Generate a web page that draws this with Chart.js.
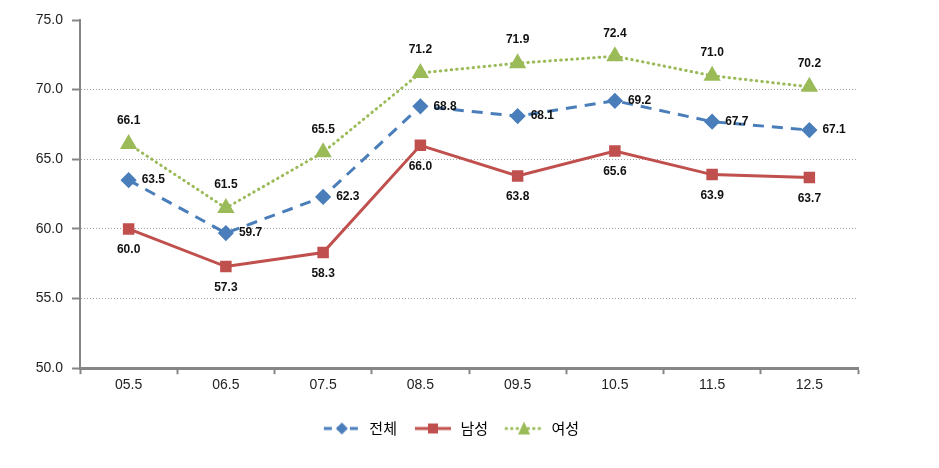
<!DOCTYPE html>
<html>
<head>
<meta charset="utf-8">
<script src="https://cdn.jsdelivr.net/npm/chart.js@4.4.1/dist/chart.umd.min.js"></script>
<style>
  html, body { margin: 0; padding: 0; background: #fff; }
  #wrap { width: 939px; height: 468px; }
</style>
</head>
<body>
<div id="wrap"><canvas id="chart" width="939" height="468"></canvas></div>
<script>
// categories (year.month) and series values
var months = ["05.5", "06.5", "07.5", "08.5", "09.5", "10.5", "11.5", "12.5"];
var total  = [63.5, 59.7, 62.3, 68.8, 68.1, 69.2, 67.7, 67.1];
var male   = [60.0, 57.3, 58.3, 66.0, 63.8, 65.6, 63.9, 63.7];
var female = [66.1, 61.5, 65.5, 71.2, 71.9, 72.4, 71.0, 70.2];
var yTicks = [50, 55, 60, 65, 70, 75];

var BLUE = "#4A7EBB", RED = "#C0504D", GREEN = "#9BBB59";

// small legend swatches: line + marker, like the office chart legend
function swatch(color, dash, cap, shape) {
    var c = document.createElement("canvas");
    c.width = 40; c.height = 16;
    var g = c.getContext("2d");
    g.strokeStyle = color;
    g.lineWidth = 3;
    g.lineCap = cap;
    g.setLineDash(dash);
    g.beginPath(); g.moveTo(2, 8); g.lineTo(38, 8); g.stroke();
    g.setLineDash([]);
    g.fillStyle = color;
    g.beginPath();
    if (shape === "diamond") {
        g.moveTo(20, 2); g.lineTo(26, 8); g.lineTo(20, 14); g.lineTo(14, 8);
    } else if (shape === "square") {
        g.rect(15, 3, 10, 10);
    } else {
        g.moveTo(20, 1); g.lineTo(26, 14); g.lineTo(14, 14);
    }
    g.closePath(); g.fill();
    return c;
}

var swatches = [
    swatch(BLUE, [8, 5], "butt", "diamond"),
    swatch(RED, [], "butt", "square"),
    swatch(GREEN, [0.5, 5], "round", "triangle")
];

// draws the value labels next to each point
var valueLabels = {
    id: "valueLabels",
    afterDatasetsDraw: function (chart) {
        var ctx = chart.ctx;
        ctx.save();
        ctx.font = "bold 12px 'Liberation Sans', Arial, sans-serif";
        ctx.fillStyle = "#111";
        chart.data.datasets.forEach(function (ds, i) {
            var meta = chart.getDatasetMeta(i);
            meta.data.forEach(function (pt, j) {
                var txt = ds.data[j].toFixed(1);
                if (ds.labelPos === "right") {
                    ctx.textAlign = "left"; ctx.textBaseline = "middle";
                    ctx.fillText(txt, pt.x + 13, pt.y);
                } else if (ds.labelPos === "below") {
                    ctx.textAlign = "center"; ctx.textBaseline = "middle";
                    ctx.fillText(txt, pt.x, pt.y + 21);
                } else {
                    ctx.textAlign = "center"; ctx.textBaseline = "middle";
                    ctx.fillText(txt, pt.x, pt.y - 23);
                }
            });
        });
        ctx.restore();
    }
};

new Chart(document.getElementById("chart"), {
    type: "line",
    data: {
        labels: months,
        datasets: [
            {
                label: "전체",
                data: total,
                borderColor: BLUE,
                backgroundColor: BLUE,
                borderWidth: 3,
                borderDash: [11, 8],
                pointStyle: "rectRot",
                pointRadius: 6,
                labelPos: "right"
            },
            {
                label: "남성",
                data: male,
                borderColor: RED,
                backgroundColor: RED,
                borderWidth: 3,
                pointStyle: "rect",
                pointRadius: 6,
                labelPos: "below"
            },
            {
                label: "여성",
                data: female,
                borderColor: GREEN,
                backgroundColor: GREEN,
                borderWidth: 3,
                borderDash: [0.5, 5],
                borderCapStyle: "round",
                pointStyle: "triangle",
                pointRadius: 7,
                labelPos: "above"
            }
        ]
    },
    options: {
        responsive: false,
        animation: false,
        layout: { padding: { left: 0, right: 38, top: 20, bottom: 22 } },
        plugins: {
            tooltip: { enabled: false },
            legend: {
                position: "bottom",
                labels: {
                    usePointStyle: true,
                    pointStyleWidth: 40,
                    boxHeight: 15,
                    padding: 16,
                    color: "#222",
                    font: { size: 15, family: "'Noto Sans CJK KR', sans-serif" },
                    generateLabels: function (chart) {
                        return chart.data.datasets.map(function (ds, i) {
                            return {
                                text: ds.label,
                                pointStyle: swatches[i],
                                fillStyle: ds.borderColor,
                                strokeStyle: ds.borderColor,
                                lineWidth: 0,
                                hidden: false,
                                datasetIndex: i
                            };
                        });
                    }
                }
            }
        },
        scales: {
            x: {
                offset: true,
                afterFit: function (scale) { scale.height += 8; },
                grid: {
                    offset: true,
                    drawOnChartArea: false,
                    drawTicks: true,
                    tickLength: 6,
                    tickColor: "#868686",
                    tickWidth: 2
                },
                border: { color: "#868686", width: 3 },
                ticks: {
                    color: "#222",
                    padding: 3,
                    font: { size: 14, family: "'Liberation Sans', Arial, sans-serif" }
                }
            },
            y: {
                min: 50,
                max: 75,
                afterBuildTicks: function (scale) {
                    scale.ticks = yTicks.map(function (v) { return { value: v }; });
                },
                afterFit: function (scale) { scale.width = 80; },
                grid: {
                    color: function (c) {
                        var v = c.tick ? c.tick.value : null;
                        return (v === 50 || v === 75) ? "rgba(0,0,0,0)" : "#A0A0A0";
                    },
                    tickColor: "#868686",
                    tickLength: 8,
                    tickWidth: 2,
                    tickBorderDash: [],
                    lineWidth: 1,
                    drawTicks: true
                },
                border: { color: "#868686", width: 2, dash: [1, 2] },
                ticks: {
                    color: "#222",
                    padding: 9,
                    callback: function (v) { return Number(v).toFixed(1); },
                    font: { size: 14, family: "'Liberation Sans', Arial, sans-serif" }
                }
            },
            // empty right-hand space, keeps the legend centred like the original
            yPad: {
                position: "right",
                display: true,
                afterFit: function (scale) { scale.width = 43; },
                grid: { display: false },
                border: { display: false },
                ticks: { display: false }
            }
        }
    },
    plugins: [valueLabels]
});
</script>
</body>
</html>
